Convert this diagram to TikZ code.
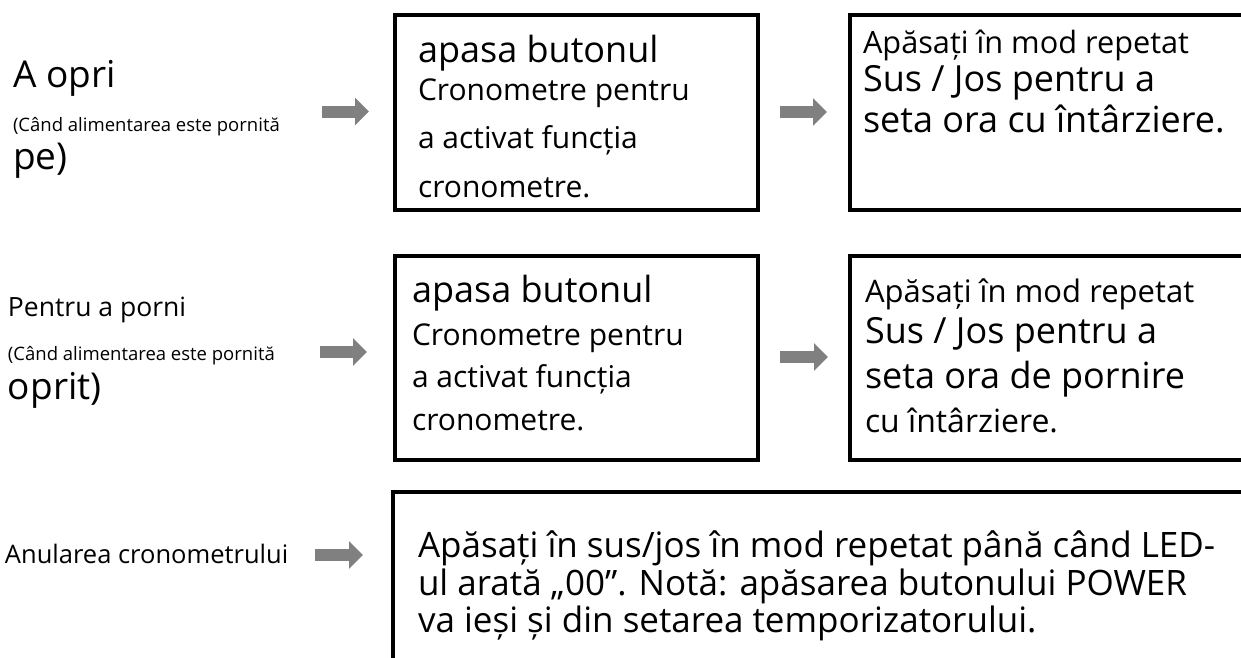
\documentclass[tikz,border=0pt]{standalone}
\usepackage{fontspec}
\setmainfont{Open Sans}
\usetikzlibrary{arrows.meta}
\definecolor{arrowgray}{RGB}{128,128,128}
\newcommand{\fs}[1]{\fontsize{#1}{#1}\selectfont}
\begin{document}
\begin{tikzpicture}[x=1pt,y=-1pt,
  box/.style={draw=black, line width=3.8pt, rectangle, anchor=north west, inner sep=0pt, outer sep=0pt},
  txt/.style={anchor=base west, inner sep=0pt, outer sep=0pt, text=black},
  bigarrow/.style={draw=arrowgray, line width=12pt, -{Triangle[length=14pt,width=27pt]}}
]
\useasboundingbox (0,0) rectangle (1241,657);
\clip (0,0) rectangle (1241,657);

% ---- row 1 ----
\node[txt, font=\fs{37}] (l1a) at (13,87) {A opri};
\node[txt, font=\fs{18.5}] (l1b) at (13,131) {(Când alimentarea este pornită};
\node[txt, font=\fs{37}] (l1c) at (13,169) {pe)};

\node[box, minimum width=363pt, minimum height=195pt] (b11) at (395,15) {};
\node[txt, font=\fs{36}] (b11a) at (418,62) {apasa butonul};
\node[txt, font=\fs{30}] (b11b) at (418,100) {Cronometre pentru};
\node[txt, font=\fs{30}] (b11c) at (418,148) {a activat funcția};
\node[txt, font=\fs{30}] (b11d) at (418,197) {cronometre.};

\node[box, minimum width=420pt, minimum height=195pt] (b12) at (850,15) {};
\node[txt, font=\fs{30.7}] (b12a) at (863,53) {Apăsați în mod repetat};
\node[txt, font=\fs{36}] (b12b) at (863,91) {Sus / Jos pentru a};
\node[txt, font=\fs{36}] (b12c) at (863,132) {seta ora cu întârziere.};

% ---- row 2 ----
\node[txt, font=\fs{26.5}] (l2a) at (8,316) {Pentru a porni};
\node[txt, font=\fs{18.5}] (l2b) at (8,360) {(Când alimentarea este pornită};
\node[txt, font=\fs{37}] (l2c) at (8,399) {oprit)};

\node[box, minimum width=363pt, minimum height=204pt] (b21) at (395,256) {};
\node[txt, font=\fs{36}] (b21a) at (412,302) {apasa butonul};
\node[txt, font=\fs{30}] (b21b) at (412,345) {Cronometre pentru};
\node[txt, font=\fs{30}] (b21c) at (412,387) {a activat funcția};
\node[txt, font=\fs{30}] (b21d) at (412,430) {cronometre.};

\node[box, minimum width=420pt, minimum height=204pt] (b22) at (850,256) {};
\node[txt, font=\fs{31}] (b22a) at (865,302) {Apăsați în mod repetat};
\node[txt, font=\fs{36}] (b22b) at (865,343) {Sus / Jos pentru a};
\node[txt, font=\fs{36}] (b22c) at (865,388) {seta ora de pornire};
\node[txt, font=\fs{32}] (b22d) at (865,432) {cu întârziere.};

% ---- row 3 ----
\node[txt, font=\fs{25.5}] (l3a) at (5,563) {Anularea cronometrului};

\node[box, minimum width=880pt, minimum height=200pt] (b3) at (393,492) {};
\node[txt, font=\fs{35}] (b3a) at (418,557) {Apăsați în sus/jos în mod repetat până când LED-};
\node[txt, font=\fs{35}] (b3b) at (418,595) {ul arată „00”. Notă: apăsarea butonului POWER};
\node[txt, font=\fs{35}] (b3c) at (418,632) {va ieși și din setarea temporizatorului.};

% ---- arrows ----
\coordinate (a1s) at (322,111.5); \coordinate (a1e) at (369,111.5);
\coordinate (a2s) at (780,112); \coordinate (a2e) at (827,112);
\coordinate (a3s) at (320,352); \coordinate (a3e) at (367,352);
\coordinate (a4s) at (780,357); \coordinate (a4e) at (828,357);
\coordinate (a5s) at (315,555); \coordinate (a5e) at (363,555);
\draw[bigarrow] (a1s) -- (a1e);
\draw[bigarrow] (a2s) -- (a2e);
\draw[bigarrow] (a3s) -- (a3e);
\draw[bigarrow] (a4s) -- (a4e);
\draw[bigarrow] (a5s) -- (a5e);
\end{tikzpicture}
\end{document}
